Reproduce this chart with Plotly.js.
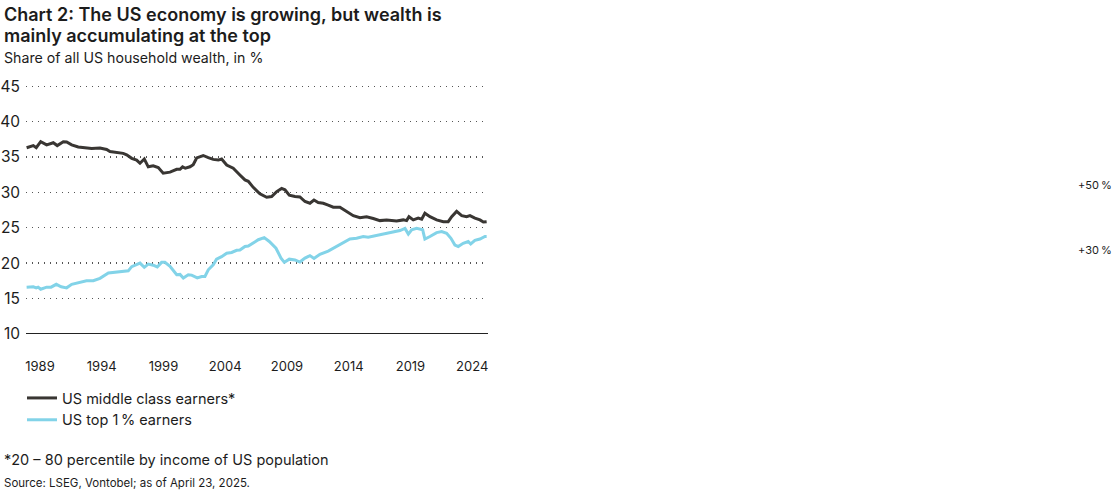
<!DOCTYPE html>
<html>
<head>
<meta charset="utf-8">
<script src="https://cdn.plot.ly/plotly-3.0.1.min.js"></script>
<style>html,body{margin:0;padding:0;background:#fff;}#chart{width:1115px;height:493px;}</style>
</head>
<body>
<div id="chart"></div>
<script>
// Data (decimal years, share of US household wealth in %)
const midYears = [1987.92,1988.46,1988.7,1989.06,1989.54,1990.08,1990.4,1990.89,1991.16,1991.57,1992.1,1992.5,1993.19,1993.86,1994.4,1994.67,1995.21,1995.74,1996.02,1996.43,1996.83,1997.1,1997.45,1997.77,1998.17,1998.58,1998.98,1999.53,2000.07,2000.34,2000.55,2000.77,2001.15,2001.41,2001.69,2002.22,2002.63,2003.03,2003.44,2003.71,2004.12,2004.65,2005.19,2005.6,2005.87,2006.27,2006.81,2007.36,2007.76,2008.17,2008.57,2008.84,2009.19,2009.65,2010.05,2010.46,2010.86,2011.19,2011.53,2011.94,2012.34,2012.75,2013.29,2013.83,2014.37,2014.91,2015.45,2015.99,2016.53,2017.07,2017.88,2018.42,2018.69,2018.88,2019.23,2019.63,2019.91,2020.17,2020.58,2021.12,2021.66,2022.06,2022.34,2022.74,2023.15,2023.55,2023.82,2024.22,2024.63,2024.9,2025.17];
const midVals  = [36.3,36.6,36.3,37.15,36.7,37.0,36.6,37.15,37.1,36.7,36.4,36.3,36.2,36.25,36.05,35.75,35.6,35.5,35.3,34.8,34.55,34.1,34.7,33.6,33.75,33.5,32.7,32.85,33.25,33.25,33.6,33.4,33.6,33.9,34.85,35.2,34.9,34.65,34.55,34.7,33.85,33.4,32.45,31.75,31.55,30.7,29.8,29.3,29.4,30.1,30.55,30.35,29.6,29.4,29.35,28.7,28.45,28.9,28.55,28.45,28.2,27.9,27.9,27.3,26.7,26.4,26.55,26.3,26.0,26.1,25.95,26.1,26.0,26.55,26.1,26.35,26.2,27.05,26.55,26.1,25.85,25.85,26.55,27.3,26.7,26.55,26.7,26.35,26.1,25.8,25.85];
const topYears = [1987.92,1988.46,1988.7,1988.85,1989.06,1989.54,1989.9,1990.32,1990.72,1991.16,1991.57,1992.24,1992.77,1993.32,1993.86,1994.54,1995.07,1995.61,1995.88,1996.15,1996.43,1996.83,1997.1,1997.45,1997.77,1998.17,1998.5,1998.85,1999.12,1999.53,2000.07,2000.34,2000.61,2001.01,2001.28,2001.74,2002.09,2002.36,2002.63,2003.03,2003.3,2003.71,2004.12,2004.52,2004.93,2005.19,2005.6,2005.87,2006.27,2006.68,2007.16,2007.57,2008.11,2008.52,2008.79,2009.19,2009.65,2010.05,2010.46,2010.86,2011.19,2011.67,2012.34,2012.88,2013.42,2014.1,2014.64,2015.18,2015.58,2016.12,2016.53,2017.07,2017.61,2018.15,2018.56,2018.83,2019.1,2019.5,2019.99,2020.17,2020.58,2021.12,2021.53,2021.93,2022.28,2022.6,2022.87,2023.27,2023.68,2023.88,2024.22,2024.63,2025.03,2025.17];
const topVals  = [16.6,16.65,16.5,16.6,16.3,16.6,16.6,17.0,16.65,16.5,17.0,17.3,17.5,17.5,17.85,18.6,18.7,18.75,18.9,18.9,19.5,19.75,20.0,19.4,19.85,19.7,19.45,20.1,20.1,19.55,18.35,18.4,17.9,18.35,18.3,17.9,18.1,18.1,19.05,19.75,20.55,20.9,21.4,21.5,21.8,21.85,22.35,22.4,22.8,23.3,23.6,23.05,22.1,20.7,20.1,20.55,20.45,20.15,20.7,21.05,20.65,21.25,21.7,22.2,22.7,23.4,23.5,23.75,23.65,23.85,24.1,24.2,24.45,24.6,24.9,24.1,24.7,24.9,24.7,23.4,23.75,24.3,24.45,24.2,23.5,22.55,22.35,22.8,23.05,22.7,23.2,23.4,23.75,23.75];
const tickYears = [1989,1994,1999,2004,2009,2014,2019,2024];
const tickLabels = ['1989','1994','1999','2004','2009','2014','2019','2024'];
const yTicks = [10,15,20,25,30,35,40,45];
const seriesNames = ['US middle class earners*','US top 1\u2009% earners'];
const changeLabels = ['+50\u2009%','+30\u2009%'];

const FONT = 'Inter, "Liberation Sans", Arial, sans-serif';
const TXT = '#1c1c1c';
const PW = 462, PH = 250, ML = 26, MT = 84;
const px = x => (x - ML) / PW;
const py = y => (MT + PH - y) / PH;

const traces = [
  {x: midYears, y: midVals, name: seriesNames[0], type: 'scatter', mode: 'lines',
   line: {color: '#393633', width: 3}},
  {x: topYears, y: topVals, name: seriesNames[1], type: 'scatter', mode: 'lines',
   line: {color: '#82d3e8', width: 3}}
];

const ann = (text, x, y, size, opts) => Object.assign({
  text: text, xref: 'paper', yref: 'paper', x: px(x), y: py(y),
  xanchor: 'left', yanchor: 'middle', showarrow: false,
  font: {family: FONT, size: size, color: TXT}
}, opts || {});

const layout = {
  width: 1115, height: 493,
  margin: {l: ML, r: 1115 - ML - PW, t: MT, b: 493 - MT - PH, pad: 0},
  paper_bgcolor: '#fff', plot_bgcolor: '#fff',
  showlegend: true,
  legend: {x: px(22), y: py(382), xanchor: 'left', yanchor: 'top',
    font: {family: FONT, size: 14.5, color: TXT}, bgcolor: 'rgba(0,0,0,0)',
    tracegroupgap: 0, itemwidth: 30},
  xaxis: {range: [1987.87, 2025.28], tickvals: tickYears, ticktext: tickLabels,
    showgrid: false, zeroline: false, showline: false,
    ticks: 'outside', ticklen: 20, tickcolor: 'rgba(0,0,0,0)',
    tickfont: {family: FONT, size: 13, color: TXT}},
  yaxis: {range: [9.98, 45.3], tickvals: yTicks, showgrid: true,
    gridcolor: '#555', griddash: '1.3px,4.7px', gridwidth: 1.2,
    zeroline: false, showline: false, ticks: '', ticklabelstandoff: 5,
    tickfont: {family: FONT, size: 15.5, color: TXT}},
  shapes: [{type: 'line', xref: 'paper', yref: 'y', x0: 0, x1: 1, y0: 10, y1: 10,
    line: {color: '#222', width: 1.5}}],
  annotations: [
    ann('Chart 2: The US economy is growing, but wealth is', 2, 14, 18, {font: {family: FONT, size: 18, color: TXT, weight: 600}}),
    ann('mainly accumulating at the top', 2, 35, 18, {font: {family: FONT, size: 18, color: TXT, weight: 600}}),
    ann('Share of all US household wealth, in %', 2, 58, 14.2),
    ann('*20 \u2013 80 percentile by income of US population', 2, 459, 14.5),
    ann('Source: LSEG, Vontobel; as of April 23, 2025.', 2, 483, 11.5),
    ann(changeLabels[0], 1114, 185, 11, {xanchor: 'right'}),
    ann(changeLabels[1], 1114, 250, 11, {xanchor: 'right'})
  ]
};

Plotly.newPlot('chart', traces, layout, {displayModeBar: false, staticPlot: true});
</script>
</body>
</html>
